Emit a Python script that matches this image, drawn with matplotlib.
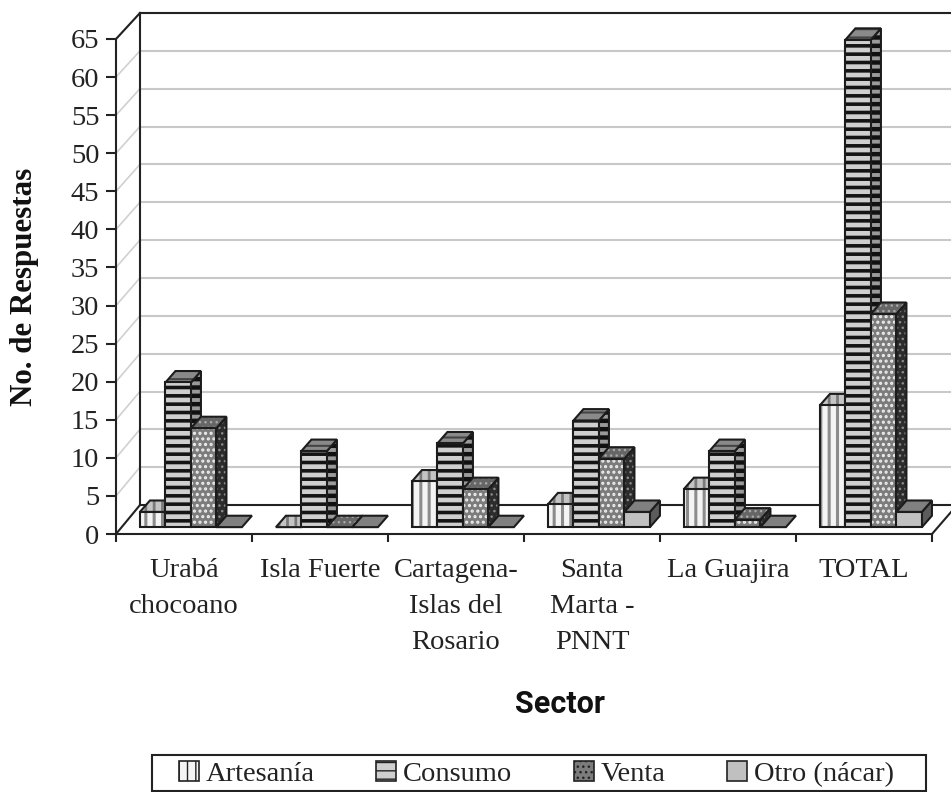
import numpy as np
import matplotlib
matplotlib.use("Agg")
import matplotlib.pyplot as plt
from matplotlib.patches import Polygon, Patch, Rectangle

plt.rcParams['font.family'] = ['Liberation Serif', 'DejaVu Serif']

sectors = ["Urabá\nchocoano", "Isla Fuerte", "Cartagena-\nIslas del\nRosario",
           "Santa\nMarta -\nPNNT", "La Guajira", "TOTAL"]
series = ["Artesanía", "Consumo", "Venta", "Otro (nácar)"]
artesania = [2, 0, 6, 3, 5, 16]
consumo = [19, 10, 11, 14, 10, 64]
venta = [13, 0, 5, 9, 1, 28]
otro = [0, 0, 0, 2, 0, 2]
yticks = list(range(0, 70, 5))

# face styles: (face, hatch colour, hatch, hatch width) for front, top, side
styles = [
    dict(front=('#f4f4f4', '#8c8c8c', '||', 2.2), top=('#c4c4c4', '#7a7a7a', '||', 2.0), side=('#c4c4c4', '#7a7a7a', '||', 2.0)),
    dict(front=('#cfcfcf', '#141414', '--', 2.6), top=('#8a8a8a', '#444444', '--', 1.5), side=('#9a9a9a', '#111111', '--', 3.2)),
    dict(front=('#7c7c7c', '#efefef', '...', 1.5), top=('#666666', '#a8a8a8', '...', 1.0), side=('#2c2c2c', '#8a8a8a', '...', 1.0)),
    dict(front=('#c0c0c0', None, None, 0), top=('#808080', None, None, 0), side=('#5c5c5c', None, None, 0)),
]

# 3D look of the chart, in data units
wall_dx, wall_dy = 0.176, 3.8
wall_scale = 0.994
bar_dx, bar_dy = 0.0735, 1.5
base_y = 0.9
bar_w = 0.1875
bar_start = 0.176

fig = plt.figure(figsize=(9.51, 7.92), dpi=100)
ax = fig.add_axes([116 / 951, 1 - 534 / 792, (932 - 116) / 951, (534 - 39) / 792])
ax.set_xlim(0, 6)
ax.set_ylim(0, 65)
ax.patch.set_alpha(0)
for s in ['top', 'right']:
    ax.spines[s].set_visible(False)
for s in ['left', 'bottom']:
    ax.spines[s].set_linewidth(1.5)
    ax.spines[s].set_color('#222222')


def face(points, style, z):
    col, hcol, hatch, hw = style
    plt.rcParams['hatch.linewidth'] = hw if hw else 1.0
    p = Polygon(points, closed=True, facecolor=col, edgecolor=hcol if hcol else 'none',
                hatch=hatch, linewidth=0, clip_on=False, zorder=z)
    ax.add_patch(p)
    ax.add_patch(Polygon(points, closed=True, fill=False, edgecolor='#1c1c1c',
                         linewidth=1.5, clip_on=False, zorder=z))


def bar3d(x, v, st, z):
    y0, y1 = base_y, base_y + v
    x1 = x + bar_w
    if v > 0:
        face([(x1, y0), (x1 + bar_dx, y0 + bar_dy), (x1 + bar_dx, y1 + bar_dy), (x1, y1)], st['side'], z)
    face([(x, y1), (x1, y1), (x1 + bar_dx, y1 + bar_dy), (x + bar_dx, y1 + bar_dy)], st['top'], z)
    if v > 0:
        face([(x, y0), (x1, y0), (x1, y1), (x, y1)], st['front'], z)


# back wall, floor and side wall
right_edge = 6 + 0.14
for v in yticks[1:]:
    wy = v * wall_scale + wall_dy
    ax.plot([wall_dx, right_edge], [wy, wy], color='#c8c8c8', lw=1.5, clip_on=False, zorder=1)
    ax.plot([0, wall_dx], [v, wy], color='#d0d0d0', lw=1.2, clip_on=False, zorder=1)
top_wy = 65 * wall_scale + wall_dy
ax.plot([wall_dx, right_edge], [top_wy, top_wy], color='#222222', lw=1.5, clip_on=False, zorder=2)
ax.plot([wall_dx, right_edge], [wall_dy] * 2, color='#222222', lw=1.5, clip_on=False, zorder=2)
ax.plot([wall_dx, wall_dx], [wall_dy, top_wy], color='#222222', lw=1.5, clip_on=False, zorder=2)
ax.plot([0, wall_dx], [65, top_wy], color='#222222', lw=1.5, clip_on=False, zorder=2)
ax.plot([0, wall_dx], [0, wall_dy], color='#222222', lw=1.5, clip_on=False, zorder=2)
ax.plot([6, right_edge], [0, wall_dy * 0.76], color='#222222', lw=1.5, clip_on=False, zorder=2)

values = [artesania, consumo, venta, otro]
z = 3
for i in range(len(sectors)):
    for j in range(len(series)):
        bar3d(i + bar_start + j * bar_w, values[j][i], styles[j], z)
        z += 1

ax.set_yticks(yticks)
ax.set_yticklabels([str(v) for v in yticks], fontsize=20.5)
ax.tick_params(axis='y', length=7, width=1.5, pad=5, color='#222222', labelcolor='#222222')
ax.set_xticks(range(7))
ax.set_xticklabels([''] * 7)
ax.tick_params(axis='x', which='major', length=6, width=1.5, color='#222222')
ax.set_xticks([i + 0.5 for i in range(6)], minor=True)
ax.set_xticklabels(sectors, minor=True, fontsize=20.5, linespacing=1.6, color='#222222')
ax.tick_params(axis='x', which='minor', length=0, pad=17)

fig.text(25 / 951, 1 - 287 / 792, "No. de Respuestas", rotation=90, ha='center', va='center',
         fontsize=22.3, fontweight='bold', color='#111111')
fig.text(560 / 951, 1 - 704 / 792, "Sector", ha='center', va='center', fontsize=22,
         fontweight='bold', family='Roboto', color='#111111')

# legend along the bottom, frame drawn on its own
fig.add_artist(Rectangle((152 / 951, 1 / 792), (926 - 152) / 951, 36 / 792, transform=fig.transFigure,
                         facecolor='white', edgecolor='#222222', linewidth=1.5))
handles = []
for st, name in zip(styles, series):
    col, hcol, hatch, hw = st['front']
    plt.rcParams['hatch.linewidth'] = hw if hw else 1.0
    handles.append(Patch(facecolor=col, edgecolor=hcol if hcol else '#222222', hatch=hatch, label=name))
leg = fig.legend(handles=handles, ncol=4, loc='lower left',
                 bbox_to_anchor=(179 / 951, 5 / 792), fontsize=20.5, frameon=False,
                 borderaxespad=0, borderpad=0, handlelength=0.7, handleheight=0.7, handletextpad=0.25,
                 columnspacing=2.15, labelcolor='#222222')
for h in leg.legend_handles:
    h.set_edgecolor('#222222')
    h.set_linewidth(1.2)

fig.savefig('out.png', dpi=100, facecolor='white')
